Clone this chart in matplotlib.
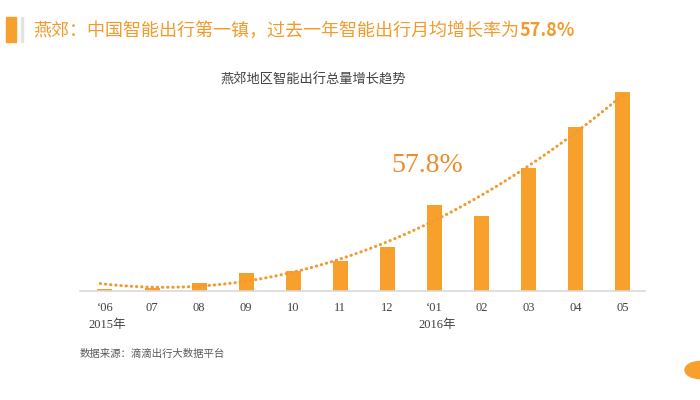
import matplotlib.pyplot as plt
import numpy as np
from matplotlib.patches import Rectangle, Circle

# 数据
months = ["‘06", "07", "08", "09", "10", "11", "12", "‘01", "02", "03", "04", "05"]
volume = [2, 3, 8, 18, 20, 30, 44, 86, 75, 123, 164, 199]
years = ["2015年", "2016年"]
year_pos = [0.05, 7.05]

orange = "#F7A02C"
cjk = ["Noto Sans CJK SC", "DejaVu Sans"]
serif = ["Liberation Serif", "Noto Sans CJK SC"]

fig = plt.figure(figsize=(7, 4), dpi=100)
ax = fig.add_axes([80 / 700, 1 - 291 / 400, 565 / 700, 206 / 400])

x = np.arange(len(months))
ax.bar(x, volume, width=0.32, color=orange, zorder=2)

# 多项式趋势线
coef = np.polyfit(x, volume, 2)
xs = np.linspace(-0.1, 11.0, 200)
ax.plot(xs, np.polyval(coef, xs), color="#F29A2E", lw=2.2,
        linestyle=(0, (0.1, 1.6)), dash_capstyle="round", zorder=3)

ax.set_xlim(-0.53, 11.47)
ax.set_ylim(0, 206)
ax.set_yticks([])
ax.set_xticks(x)
ax.set_xticklabels(months, family=serif, fontsize=9, color="#404040")
ax.tick_params(axis="x", length=0, pad=8)
for s in ["top", "right", "left"]:
    ax.spines[s].set_visible(False)
ax.spines["bottom"].set_color("#D9D9D9")
ax.spines["bottom"].set_linewidth(1.2)

for p, y in zip(year_pos, years):
    ax.annotate(y, (p, 0), xytext=(0, -24.5), textcoords="offset points",
                ha="center", va="center", family=serif, fontsize=9, color="#404040")

ax.text(6.84, 126, "57.8%", family=serif, fontsize=20, color="#EE8B2E",
        ha="center", va="center")

# 标题
fig.patches.append(Rectangle((6 / 700, 1 - 42 / 400), 10 / 700, 25 / 400,
                             transform=fig.transFigure, color=orange))
fig.patches.append(Rectangle((21 / 700, 1 - 42 / 400), 2 / 700, 25 / 400,
                             transform=fig.transFigure, color="#E3E3E3"))
t = fig.text(33 / 700, 1 - 31 / 400, "燕郊：中国智能出行第一镇，过去一年智能出行月均增长率为",
             family=cjk, fontsize=13, color="#F39A2B", va="center")
fig.canvas.draw()
bb = t.get_window_extent()
fig.text(bb.x1 / 700, 1 - 31 / 400, "57.8%", family=cjk, fontsize=13,
         fontweight="bold", color="#F39A2B", va="center")

fig.text(313 / 700, 1 - 80 / 400, "燕郊地区智能出行总量增长趋势", family=cjk,
         fontsize=9.5, color="#404040", ha="center", va="center")
fig.text(80 / 700, 1 - 354 / 400, "数据来源：滴滴出行大数据平台", family=cjk,
         fontsize=7.5, color="#595959", va="center")

fig.patches.append(Circle((700 / 700, 1 - 370 / 400), 15 / 700,
                          transform=fig.transFigure, color=orange))

fig.savefig("out.png", dpi=100, facecolor="white")
